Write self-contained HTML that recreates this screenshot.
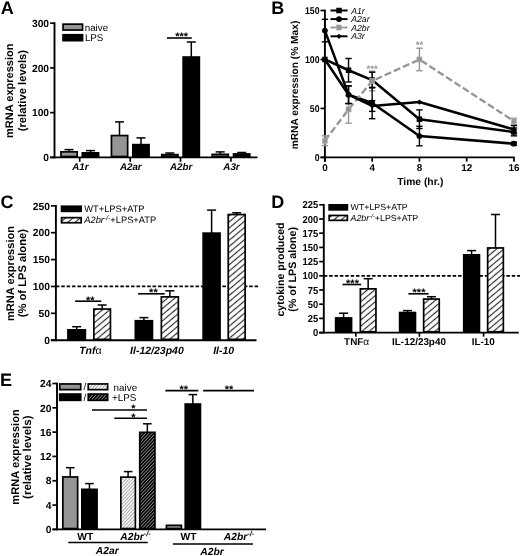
<!DOCTYPE html>
<html lang="en"><head><meta charset="utf-8"><title>Figure</title>
<style>html,body{margin:0;padding:0;background:#fff}svg{display:block;transform:translateZ(0);will-change:transform}text{font-family:"Liberation Sans", Arial, sans-serif;text-rendering:geometricPrecision}</style></head><body>
<svg width="520" height="556" viewBox="0 0 520 556">
<rect x="0" y="0" width="520" height="556" fill="#fff"/>
<defs>
<pattern id="h1" patternUnits="userSpaceOnUse" width="4.7" height="4.7" patternTransform="rotate(-40)"><rect width="4.7" height="4.7" fill="#fff"/><line x1="0" y1="2.35" x2="4.7" y2="2.35" stroke="#2a2a2a" stroke-width="1.15"/></pattern>
<pattern id="h2" patternUnits="userSpaceOnUse" width="2.4" height="2.4" patternTransform="rotate(-47)"><rect width="2.4" height="2.4" fill="#fff"/><line x1="0" y1="1.2" x2="2.4" y2="1.2" stroke="#a4a4a4" stroke-width="0.95"/></pattern>
<pattern id="h3" patternUnits="userSpaceOnUse" width="2.4" height="2.4" patternTransform="rotate(-47)"><rect width="2.4" height="2.4" fill="#000"/><line x1="0" y1="1.2" x2="2.4" y2="1.2" stroke="#9a9a9a" stroke-width="0.75"/></pattern>
</defs>
<g id="panelA">
<text x="0.70" y="13.90" font-size="18" font-weight="bold" font-style="normal" text-anchor="start" fill="#000" >A</text>
<line x1="54.50" y1="22.30" x2="54.50" y2="158.35" stroke="#000" stroke-width="1.9" />
<line x1="50.10" y1="157.40" x2="54.50" y2="157.40" stroke="#000" stroke-width="1.7" />
<text x="49.10" y="161.09" font-size="10.3" font-weight="bold" font-style="normal" text-anchor="end" fill="#000" >0</text>
<line x1="50.10" y1="112.65" x2="54.50" y2="112.65" stroke="#000" stroke-width="1.7" />
<text x="49.10" y="116.34" font-size="10.3" font-weight="bold" font-style="normal" text-anchor="end" fill="#000" >100</text>
<line x1="50.10" y1="67.90" x2="54.50" y2="67.90" stroke="#000" stroke-width="1.7" />
<text x="49.10" y="71.59" font-size="10.3" font-weight="bold" font-style="normal" text-anchor="end" fill="#000" >200</text>
<line x1="50.10" y1="23.15" x2="54.50" y2="23.15" stroke="#000" stroke-width="1.7" />
<text x="49.10" y="26.84" font-size="10.3" font-weight="bold" font-style="normal" text-anchor="end" fill="#000" >300</text>
<line x1="50.10" y1="157.40" x2="257.50" y2="157.40" stroke="#000" stroke-width="1.9" />
<text x="13.10" y="90.80" font-size="11" font-weight="bold" font-style="normal" text-anchor="middle" fill="#000" transform="rotate(-90 13.10 90.80)" >mRNA expression</text>
<text x="26.50" y="90.60" font-size="11.25" font-weight="bold" font-style="normal" text-anchor="middle" fill="#000" transform="rotate(-90 26.50 90.60)" >(relative levels)</text>
<rect x="63.05" y="24.15" width="19.50" height="5.90" fill="#959595" stroke="#000" stroke-width="1.7"/>
<text x="84.70" y="31.00" font-size="9.8" font-weight="normal" font-style="normal" text-anchor="start" fill="#000" >naive</text>
<rect x="63.05" y="34.75" width="19.50" height="5.90" fill="#000" stroke="#000" stroke-width="1.7"/>
<text x="84.90" y="41.30" font-size="9.8" font-weight="normal" font-style="normal" text-anchor="start" fill="#000" >LPS</text>
<line x1="69.00" y1="149.60" x2="69.00" y2="152.00" stroke="#000" stroke-width="1.5" />
<line x1="64.50" y1="149.60" x2="73.50" y2="149.60" stroke="#000" stroke-width="1.5" />
<line x1="90.50" y1="150.60" x2="90.50" y2="153.00" stroke="#000" stroke-width="1.5" />
<line x1="86.00" y1="150.60" x2="95.00" y2="150.60" stroke="#000" stroke-width="1.5" />
<rect x="60.95" y="151.85" width="16.20" height="4.70" fill="#959595" stroke="#000" stroke-width="1.7"/>
<rect x="82.35" y="152.85" width="16.20" height="3.70" fill="#000" stroke="#000" stroke-width="1.7"/>
<line x1="79.70" y1="157.40" x2="79.70" y2="161.80" stroke="#000" stroke-width="1.7" />
<text x="80.30" y="170.20" font-size="9.8" font-weight="bold" font-style="italic" text-anchor="middle" fill="#000" >A1r</text>
<line x1="119.50" y1="121.90" x2="119.50" y2="135.70" stroke="#000" stroke-width="1.5" />
<line x1="115.00" y1="121.90" x2="124.00" y2="121.90" stroke="#000" stroke-width="1.5" />
<line x1="141.00" y1="137.90" x2="141.00" y2="144.80" stroke="#000" stroke-width="1.5" />
<line x1="136.50" y1="137.90" x2="145.50" y2="137.90" stroke="#000" stroke-width="1.5" />
<rect x="111.45" y="135.55" width="16.20" height="21.00" fill="#959595" stroke="#000" stroke-width="1.7"/>
<rect x="132.85" y="144.65" width="16.20" height="11.90" fill="#000" stroke="#000" stroke-width="1.7"/>
<line x1="130.20" y1="157.40" x2="130.20" y2="161.80" stroke="#000" stroke-width="1.7" />
<text x="130.80" y="170.20" font-size="9.8" font-weight="bold" font-style="italic" text-anchor="middle" fill="#000" >A2ar</text>
<line x1="169.80" y1="153.00" x2="169.80" y2="154.80" stroke="#000" stroke-width="1.5" />
<line x1="165.30" y1="153.00" x2="174.30" y2="153.00" stroke="#000" stroke-width="1.5" />
<line x1="191.30" y1="42.00" x2="191.30" y2="57.20" stroke="#000" stroke-width="1.5" />
<line x1="186.80" y1="42.00" x2="195.80" y2="42.00" stroke="#000" stroke-width="1.5" />
<rect x="161.75" y="154.65" width="16.20" height="1.90" fill="#959595" stroke="#000" stroke-width="1.7"/>
<rect x="183.15" y="57.05" width="16.20" height="99.50" fill="#000" stroke="#000" stroke-width="1.7"/>
<line x1="180.50" y1="157.40" x2="180.50" y2="161.80" stroke="#000" stroke-width="1.7" />
<text x="181.10" y="170.20" font-size="9.8" font-weight="bold" font-style="italic" text-anchor="middle" fill="#000" >A2br</text>
<line x1="220.20" y1="151.90" x2="220.20" y2="154.50" stroke="#000" stroke-width="1.5" />
<line x1="215.70" y1="151.90" x2="224.70" y2="151.90" stroke="#000" stroke-width="1.5" />
<line x1="241.70" y1="152.50" x2="241.70" y2="154.10" stroke="#000" stroke-width="1.5" />
<line x1="237.20" y1="152.50" x2="246.20" y2="152.50" stroke="#000" stroke-width="1.5" />
<rect x="212.15" y="154.35" width="16.20" height="2.20" fill="#959595" stroke="#000" stroke-width="1.7"/>
<rect x="233.55" y="153.95" width="16.20" height="2.60" fill="#000" stroke="#000" stroke-width="1.7"/>
<line x1="230.90" y1="157.40" x2="230.90" y2="161.80" stroke="#000" stroke-width="1.7" />
<text x="231.50" y="170.20" font-size="9.8" font-weight="bold" font-style="italic" text-anchor="middle" fill="#000" >A3r</text>
<line x1="167.00" y1="38.00" x2="191.80" y2="38.00" stroke="#000" stroke-width="1.6" />
<text x="181.70" y="40.30" font-size="11" font-weight="bold" font-style="normal" text-anchor="middle" fill="#000" >***</text>
</g>
<g id="panelB">
<text x="271.20" y="13.90" font-size="18" font-weight="bold" font-style="normal" text-anchor="start" fill="#000" >B</text>
<line x1="324.90" y1="9.65" x2="324.90" y2="161.65" stroke="#000" stroke-width="1.9" />
<line x1="320.50" y1="157.40" x2="324.90" y2="157.40" stroke="#000" stroke-width="1.7" />
<text x="319.50" y="160.94" font-size="9.9" font-weight="bold" font-style="normal" text-anchor="end" fill="#000" transform="translate(319.50 0) scale(0.88 1) translate(-319.50 0)">0</text>
<line x1="320.50" y1="108.43" x2="324.90" y2="108.43" stroke="#000" stroke-width="1.7" />
<text x="319.50" y="111.98" font-size="9.9" font-weight="bold" font-style="normal" text-anchor="end" fill="#000" transform="translate(319.50 0) scale(0.88 1) translate(-319.50 0)">50</text>
<line x1="320.50" y1="59.47" x2="324.90" y2="59.47" stroke="#000" stroke-width="1.7" />
<text x="319.50" y="63.01" font-size="9.9" font-weight="bold" font-style="normal" text-anchor="end" fill="#000" transform="translate(319.50 0) scale(0.88 1) translate(-319.50 0)">100</text>
<line x1="320.50" y1="10.50" x2="324.90" y2="10.50" stroke="#000" stroke-width="1.7" />
<text x="319.50" y="14.04" font-size="9.9" font-weight="bold" font-style="normal" text-anchor="end" fill="#000" transform="translate(319.50 0) scale(0.88 1) translate(-319.50 0)">150</text>
<line x1="320.50" y1="157.40" x2="514.84" y2="157.40" stroke="#000" stroke-width="1.9" />
<line x1="324.90" y1="157.40" x2="324.90" y2="161.70" stroke="#000" stroke-width="1.7" />
<text x="324.90" y="171.30" font-size="9.9" font-weight="bold" font-style="normal" text-anchor="middle" fill="#000" >0</text>
<line x1="372.16" y1="157.40" x2="372.16" y2="161.70" stroke="#000" stroke-width="1.7" />
<text x="372.16" y="171.30" font-size="9.9" font-weight="bold" font-style="normal" text-anchor="middle" fill="#000" >4</text>
<line x1="419.42" y1="157.40" x2="419.42" y2="161.70" stroke="#000" stroke-width="1.7" />
<text x="419.42" y="171.30" font-size="9.9" font-weight="bold" font-style="normal" text-anchor="middle" fill="#000" >8</text>
<line x1="466.68" y1="157.40" x2="466.68" y2="161.70" stroke="#000" stroke-width="1.7" />
<text x="466.68" y="171.30" font-size="9.9" font-weight="bold" font-style="normal" text-anchor="middle" fill="#000" >12</text>
<line x1="513.94" y1="157.40" x2="513.94" y2="161.70" stroke="#000" stroke-width="1.7" />
<text x="513.94" y="171.30" font-size="9.9" font-weight="bold" font-style="normal" text-anchor="middle" fill="#000" >16</text>
<text x="420.30" y="184.60" font-size="10.3" font-weight="bold" font-style="normal" text-anchor="middle" fill="#000" >Time (hr.)</text>
<text x="298.30" y="85.00" font-size="10.2" font-weight="bold" font-style="normal" text-anchor="middle" fill="#000" transform="rotate(-90 298.30 85.00)" >mRNA expression (% Max)</text>
<line x1="324.90" y1="135.85" x2="324.90" y2="145.65" stroke="#959595" stroke-width="1.4" />
<line x1="321.70" y1="135.85" x2="328.10" y2="135.85" stroke="#959595" stroke-width="1.4" />
<line x1="321.70" y1="145.65" x2="328.10" y2="145.65" stroke="#959595" stroke-width="1.4" />
<line x1="348.53" y1="95.70" x2="348.53" y2="123.12" stroke="#959595" stroke-width="1.4" />
<line x1="345.33" y1="95.70" x2="351.73" y2="95.70" stroke="#959595" stroke-width="1.4" />
<line x1="345.33" y1="123.12" x2="351.73" y2="123.12" stroke="#959595" stroke-width="1.4" />
<line x1="372.16" y1="71.22" x2="372.16" y2="90.81" stroke="#959595" stroke-width="1.4" />
<line x1="368.96" y1="71.22" x2="375.36" y2="71.22" stroke="#959595" stroke-width="1.4" />
<line x1="368.96" y1="90.81" x2="375.36" y2="90.81" stroke="#959595" stroke-width="1.4" />
<line x1="419.42" y1="48.20" x2="419.42" y2="70.73" stroke="#959595" stroke-width="1.4" />
<line x1="416.22" y1="48.20" x2="422.62" y2="48.20" stroke="#959595" stroke-width="1.4" />
<line x1="416.22" y1="70.73" x2="422.62" y2="70.73" stroke="#959595" stroke-width="1.4" />
<line x1="513.94" y1="118.23" x2="513.94" y2="124.10" stroke="#959595" stroke-width="1.4" />
<line x1="510.74" y1="118.23" x2="517.14" y2="118.23" stroke="#959595" stroke-width="1.4" />
<line x1="510.74" y1="124.10" x2="517.14" y2="124.10" stroke="#959595" stroke-width="1.4" />
<line x1="348.53" y1="58.49" x2="348.53" y2="81.99" stroke="#000" stroke-width="1.4" />
<line x1="345.33" y1="58.49" x2="351.73" y2="58.49" stroke="#000" stroke-width="1.4" />
<line x1="345.33" y1="81.99" x2="351.73" y2="81.99" stroke="#000" stroke-width="1.4" />
<line x1="372.16" y1="72.20" x2="372.16" y2="87.87" stroke="#000" stroke-width="1.4" />
<line x1="368.96" y1="72.20" x2="375.36" y2="72.20" stroke="#000" stroke-width="1.4" />
<line x1="368.96" y1="87.87" x2="375.36" y2="87.87" stroke="#000" stroke-width="1.4" />
<line x1="419.42" y1="109.90" x2="419.42" y2="128.51" stroke="#000" stroke-width="1.4" />
<line x1="416.22" y1="109.90" x2="422.62" y2="109.90" stroke="#000" stroke-width="1.4" />
<line x1="416.22" y1="128.51" x2="422.62" y2="128.51" stroke="#000" stroke-width="1.4" />
<line x1="513.94" y1="128.02" x2="513.94" y2="135.85" stroke="#000" stroke-width="1.4" />
<line x1="510.74" y1="128.02" x2="517.14" y2="128.02" stroke="#000" stroke-width="1.4" />
<line x1="510.74" y1="135.85" x2="517.14" y2="135.85" stroke="#000" stroke-width="1.4" />
<polyline points="324.90,59.47 348.53,70.24 372.16,80.03 419.42,119.21 513.94,131.94" fill="none" stroke="#000" stroke-width="2.5" stroke-linejoin="round"/>
<rect x="322.15" y="56.72" width="5.5" height="5.5" fill="#000"/>
<rect x="345.78" y="67.49" width="5.5" height="5.5" fill="#000"/>
<rect x="369.41" y="77.28" width="5.5" height="5.5" fill="#000"/>
<rect x="416.67" y="116.46" width="5.5" height="5.5" fill="#000"/>
<rect x="511.19" y="129.19" width="5.5" height="5.5" fill="#000"/>
<line x1="324.90" y1="19.31" x2="324.90" y2="41.84" stroke="#000" stroke-width="1.4" />
<line x1="321.70" y1="19.31" x2="328.10" y2="19.31" stroke="#000" stroke-width="1.4" />
<line x1="321.70" y1="41.84" x2="328.10" y2="41.84" stroke="#000" stroke-width="1.4" />
<line x1="348.53" y1="85.91" x2="348.53" y2="103.54" stroke="#000" stroke-width="1.4" />
<line x1="345.33" y1="85.91" x2="351.73" y2="85.91" stroke="#000" stroke-width="1.4" />
<line x1="345.33" y1="103.54" x2="351.73" y2="103.54" stroke="#000" stroke-width="1.4" />
<line x1="372.16" y1="87.38" x2="372.16" y2="118.72" stroke="#000" stroke-width="1.4" />
<line x1="368.96" y1="87.38" x2="375.36" y2="87.38" stroke="#000" stroke-width="1.4" />
<line x1="368.96" y1="118.72" x2="375.36" y2="118.72" stroke="#000" stroke-width="1.4" />
<line x1="419.42" y1="126.26" x2="419.42" y2="145.84" stroke="#000" stroke-width="1.4" />
<line x1="416.22" y1="126.26" x2="422.62" y2="126.26" stroke="#000" stroke-width="1.4" />
<line x1="416.22" y1="145.84" x2="422.62" y2="145.84" stroke="#000" stroke-width="1.4" />
<line x1="513.94" y1="142.22" x2="513.94" y2="145.16" stroke="#000" stroke-width="1.4" />
<line x1="510.74" y1="142.22" x2="517.14" y2="142.22" stroke="#000" stroke-width="1.4" />
<line x1="510.74" y1="145.16" x2="517.14" y2="145.16" stroke="#000" stroke-width="1.4" />
<polyline points="324.90,30.58 348.53,94.72 372.16,103.05 419.42,136.05 513.94,143.69" fill="none" stroke="#000" stroke-width="2.5" stroke-linejoin="round"/>
<circle cx="324.90" cy="30.58" r="2.9" fill="#000"/>
<circle cx="348.53" cy="94.72" r="2.9" fill="#000"/>
<circle cx="372.16" cy="103.05" r="2.9" fill="#000"/>
<circle cx="419.42" cy="136.05" r="2.9" fill="#000"/>
<circle cx="513.94" cy="143.69" r="2.9" fill="#000"/>
<polyline points="324.90,140.75 348.53,109.41 372.16,81.01 419.42,59.47 513.94,121.16" fill="none" stroke="#959595" stroke-width="2.3" stroke-linejoin="round" stroke-dasharray="7 3"/>
<rect x="322.30" y="138.15" width="5.2" height="5.2" fill="#959595" stroke="#bbb" stroke-width="0.5"/>
<rect x="345.93" y="106.81" width="5.2" height="5.2" fill="#959595" stroke="#bbb" stroke-width="0.5"/>
<rect x="369.56" y="78.41" width="5.2" height="5.2" fill="#959595" stroke="#bbb" stroke-width="0.5"/>
<rect x="416.82" y="56.87" width="5.2" height="5.2" fill="#959595" stroke="#bbb" stroke-width="0.5"/>
<rect x="511.34" y="118.56" width="5.2" height="5.2" fill="#959595" stroke="#bbb" stroke-width="0.5"/>
<line x1="348.53" y1="85.91" x2="348.53" y2="103.54" stroke="#000" stroke-width="1.4" />
<line x1="345.33" y1="85.91" x2="351.73" y2="85.91" stroke="#000" stroke-width="1.4" />
<line x1="345.33" y1="103.54" x2="351.73" y2="103.54" stroke="#000" stroke-width="1.4" />
<line x1="372.16" y1="100.60" x2="372.16" y2="111.37" stroke="#000" stroke-width="1.4" />
<line x1="368.96" y1="100.60" x2="375.36" y2="100.60" stroke="#000" stroke-width="1.4" />
<line x1="368.96" y1="111.37" x2="375.36" y2="111.37" stroke="#000" stroke-width="1.4" />
<line x1="513.94" y1="125.57" x2="513.94" y2="133.41" stroke="#000" stroke-width="1.4" />
<line x1="510.74" y1="125.57" x2="517.14" y2="125.57" stroke="#000" stroke-width="1.4" />
<line x1="510.74" y1="133.41" x2="517.14" y2="133.41" stroke="#000" stroke-width="1.4" />
<polyline points="324.90,59.47 348.53,94.72 372.16,105.98 419.42,102.07 513.94,129.49" fill="none" stroke="#000" stroke-width="2.5" stroke-linejoin="round"/>
<path d="M322.30 59.47L324.90 56.87L327.50 59.47L324.90 62.07Z" fill="#000"/>
<path d="M345.93 94.72L348.53 92.12L351.13 94.72L348.53 97.32Z" fill="#000"/>
<path d="M369.56 105.98L372.16 103.39L374.76 105.98L372.16 108.58Z" fill="#000"/>
<path d="M416.82 102.07L419.42 99.47L422.02 102.07L419.42 104.67Z" fill="#000"/>
<path d="M511.34 129.49L513.94 126.89L516.54 129.49L513.94 132.09Z" fill="#000"/>
<text x="372.16" y="71.60" font-size="9.5" font-weight="bold" font-style="normal" text-anchor="middle" fill="#959595" >***</text>
<text x="419.42" y="48.20" font-size="9.5" font-weight="bold" font-style="normal" text-anchor="middle" fill="#959595" >**</text>
<line x1="330.50" y1="10.50" x2="347.50" y2="10.50" stroke="#000" stroke-width="2" />
<rect x="336.25" y="7.75" width="5.5" height="5.5" fill="#000"/>
<text x="351.20" y="13.60" font-size="8.7" font-weight="normal" font-style="italic" text-anchor="start" fill="#000" >A1r</text>
<line x1="330.50" y1="19.10" x2="347.50" y2="19.10" stroke="#000" stroke-width="2" />
<circle cx="339.00" cy="19.10" r="2.9" fill="#000"/>
<text x="351.20" y="22.20" font-size="8.7" font-weight="normal" font-style="italic" text-anchor="start" fill="#000" >A2ar</text>
<line x1="330.50" y1="27.50" x2="347.50" y2="27.50" stroke="#959595" stroke-width="1.8" />
<rect x="336.40" y="24.90" width="5.2" height="5.2" fill="#959595" stroke="#bbb" stroke-width="0.5"/>
<text x="351.20" y="30.60" font-size="8.7" font-weight="normal" font-style="italic" text-anchor="start" fill="#000" >A2br</text>
<line x1="330.50" y1="36.30" x2="347.50" y2="36.30" stroke="#000" stroke-width="2" />
<path d="M336.40 36.30L339.00 33.70L341.60 36.30L339.00 38.90Z" fill="#000"/>
<text x="351.20" y="39.40" font-size="8.7" font-weight="normal" font-style="italic" text-anchor="start" fill="#000" >A3r</text>
</g>
<g id="panelC">
<text x="0.50" y="208.30" font-size="18" font-weight="bold" font-style="normal" text-anchor="start" fill="#000" >C</text>
<line x1="55.90" y1="204.97" x2="55.90" y2="341.15" stroke="#000" stroke-width="1.9" />
<line x1="50.90" y1="340.20" x2="55.90" y2="340.20" stroke="#000" stroke-width="1.7" />
<text x="49.90" y="343.89" font-size="10.3" font-weight="bold" font-style="normal" text-anchor="end" fill="#000" >0</text>
<line x1="50.90" y1="313.32" x2="55.90" y2="313.32" stroke="#000" stroke-width="1.7" />
<text x="49.90" y="317.01" font-size="10.3" font-weight="bold" font-style="normal" text-anchor="end" fill="#000" >50</text>
<line x1="50.90" y1="286.45" x2="55.90" y2="286.45" stroke="#000" stroke-width="1.7" />
<text x="49.90" y="290.14" font-size="10.3" font-weight="bold" font-style="normal" text-anchor="end" fill="#000" >100</text>
<line x1="50.90" y1="259.57" x2="55.90" y2="259.57" stroke="#000" stroke-width="1.7" />
<text x="49.90" y="263.26" font-size="10.3" font-weight="bold" font-style="normal" text-anchor="end" fill="#000" >150</text>
<line x1="50.90" y1="232.70" x2="55.90" y2="232.70" stroke="#000" stroke-width="1.7" />
<text x="49.90" y="236.39" font-size="10.3" font-weight="bold" font-style="normal" text-anchor="end" fill="#000" >200</text>
<line x1="50.90" y1="205.82" x2="55.90" y2="205.82" stroke="#000" stroke-width="1.7" />
<text x="49.90" y="209.51" font-size="10.3" font-weight="bold" font-style="normal" text-anchor="end" fill="#000" >250</text>
<line x1="50.90" y1="340.20" x2="256.50" y2="340.20" stroke="#000" stroke-width="1.9" />
<text x="13.60" y="273.50" font-size="11.1" font-weight="bold" font-style="normal" text-anchor="middle" fill="#000" transform="rotate(-90 13.60 273.50)" >mRNA expression</text>
<text x="26.20" y="273.20" font-size="11.2" font-weight="bold" font-style="normal" text-anchor="middle" fill="#000" transform="rotate(-90 26.20 273.20)" >(% of LPS alone)</text>
<line x1="55.90" y1="286.45" x2="259.00" y2="286.45" stroke="#000" stroke-width="1.8" stroke-dasharray="3.5 1.87"/>
<rect x="61.55" y="206.25" width="19.60" height="5.10" fill="#000" stroke="#000" stroke-width="1.7"/>
<text x="84.30" y="212.10" font-size="9.3" font-weight="normal" font-style="normal" text-anchor="start" fill="#000" >WT+LPS+ATP</text>
<rect x="61.55" y="217.65" width="19.60" height="5.10" fill="url(#h1)" stroke="#000" stroke-width="1.7"/>
<text x="84.3" y="223.4" font-size="9.3" text-anchor="start"><tspan font-style="italic">A2br</tspan><tspan font-size="6.8" dy="-3.5" font-style="italic">-/-</tspan><tspan dy="3.5">+LPS+ATP</tspan></text>
<line x1="76.65" y1="326.70" x2="76.65" y2="330.00" stroke="#000" stroke-width="1.5" />
<line x1="72.15" y1="326.70" x2="81.15" y2="326.70" stroke="#000" stroke-width="1.5" />
<line x1="102.15" y1="305.00" x2="102.15" y2="309.20" stroke="#000" stroke-width="1.5" />
<line x1="97.65" y1="305.00" x2="106.65" y2="305.00" stroke="#000" stroke-width="1.5" />
<rect x="67.95" y="329.85" width="17.40" height="9.50" fill="#000" stroke="#000" stroke-width="1.7"/>
<rect x="93.85" y="309.05" width="16.60" height="30.30" fill="url(#h1)" stroke="#000" stroke-width="1.7"/>
<line x1="143.90" y1="317.60" x2="143.90" y2="320.90" stroke="#000" stroke-width="1.5" />
<line x1="139.40" y1="317.60" x2="148.40" y2="317.60" stroke="#000" stroke-width="1.5" />
<line x1="169.85" y1="290.80" x2="169.85" y2="297.00" stroke="#000" stroke-width="1.5" />
<line x1="165.35" y1="290.80" x2="174.35" y2="290.80" stroke="#000" stroke-width="1.5" />
<rect x="135.35" y="320.75" width="17.10" height="18.60" fill="#000" stroke="#000" stroke-width="1.7"/>
<rect x="161.35" y="296.85" width="17.00" height="42.50" fill="url(#h1)" stroke="#000" stroke-width="1.7"/>
<line x1="211.60" y1="210.10" x2="211.60" y2="233.30" stroke="#000" stroke-width="1.5" />
<line x1="207.10" y1="210.10" x2="216.10" y2="210.10" stroke="#000" stroke-width="1.5" />
<line x1="236.70" y1="212.80" x2="236.70" y2="214.70" stroke="#000" stroke-width="1.5" />
<line x1="232.20" y1="212.80" x2="241.20" y2="212.80" stroke="#000" stroke-width="1.5" />
<rect x="203.15" y="233.15" width="16.90" height="106.20" fill="#000" stroke="#000" stroke-width="1.7"/>
<rect x="228.25" y="214.55" width="16.90" height="124.80" fill="url(#h1)" stroke="#000" stroke-width="1.7"/>
<text x="90.4" y="353.7" font-size="10.5" font-weight="bold" text-anchor="middle"><tspan font-style="italic">Tnf</tspan><tspan font-weight="normal" font-size="10.5">α</tspan></text>
<text x="156.90" y="353.70" font-size="10.5" font-weight="bold" font-style="italic" text-anchor="middle" fill="#000" >Il-12/23p40</text>
<text x="223.70" y="353.70" font-size="10.5" font-weight="bold" font-style="italic" text-anchor="middle" fill="#000" >Il-10</text>
<line x1="75.10" y1="301.20" x2="101.20" y2="301.20" stroke="#000" stroke-width="1.6" />
<text x="90.20" y="303.50" font-size="11" font-weight="bold" font-style="normal" text-anchor="middle" fill="#000" >**</text>
<line x1="138.10" y1="293.80" x2="164.70" y2="293.80" stroke="#000" stroke-width="1.6" />
<text x="153.40" y="296.10" font-size="11" font-weight="bold" font-style="normal" text-anchor="middle" fill="#000" >**</text>
</g>
<g id="panelD">
<text x="271.20" y="207.70" font-size="18" font-weight="bold" font-style="normal" text-anchor="start" fill="#000" >D</text>
<line x1="323.80" y1="203.95" x2="323.80" y2="333.55" stroke="#000" stroke-width="1.9" />
<line x1="319.20" y1="332.60" x2="323.80" y2="332.60" stroke="#000" stroke-width="1.7" />
<text x="318.20" y="336.22" font-size="10.1" font-weight="bold" font-style="normal" text-anchor="end" fill="#000" transform="translate(318.20 0) scale(0.93 1) translate(-318.20 0)">0</text>
<line x1="319.20" y1="318.40" x2="323.80" y2="318.40" stroke="#000" stroke-width="1.7" />
<text x="318.20" y="322.02" font-size="10.1" font-weight="bold" font-style="normal" text-anchor="end" fill="#000" transform="translate(318.20 0) scale(0.93 1) translate(-318.20 0)">25</text>
<line x1="319.20" y1="304.20" x2="323.80" y2="304.20" stroke="#000" stroke-width="1.7" />
<text x="318.20" y="307.82" font-size="10.1" font-weight="bold" font-style="normal" text-anchor="end" fill="#000" transform="translate(318.20 0) scale(0.93 1) translate(-318.20 0)">50</text>
<line x1="319.20" y1="290.00" x2="323.80" y2="290.00" stroke="#000" stroke-width="1.7" />
<text x="318.20" y="293.62" font-size="10.1" font-weight="bold" font-style="normal" text-anchor="end" fill="#000" transform="translate(318.20 0) scale(0.93 1) translate(-318.20 0)">75</text>
<line x1="319.20" y1="275.80" x2="323.80" y2="275.80" stroke="#000" stroke-width="1.7" />
<text x="318.20" y="279.42" font-size="10.1" font-weight="bold" font-style="normal" text-anchor="end" fill="#000" transform="translate(318.20 0) scale(0.93 1) translate(-318.20 0)">100</text>
<line x1="319.20" y1="261.60" x2="323.80" y2="261.60" stroke="#000" stroke-width="1.7" />
<text x="318.20" y="265.22" font-size="10.1" font-weight="bold" font-style="normal" text-anchor="end" fill="#000" transform="translate(318.20 0) scale(0.93 1) translate(-318.20 0)">125</text>
<line x1="319.20" y1="247.40" x2="323.80" y2="247.40" stroke="#000" stroke-width="1.7" />
<text x="318.20" y="251.02" font-size="10.1" font-weight="bold" font-style="normal" text-anchor="end" fill="#000" transform="translate(318.20 0) scale(0.93 1) translate(-318.20 0)">150</text>
<line x1="319.20" y1="233.20" x2="323.80" y2="233.20" stroke="#000" stroke-width="1.7" />
<text x="318.20" y="236.82" font-size="10.1" font-weight="bold" font-style="normal" text-anchor="end" fill="#000" transform="translate(318.20 0) scale(0.93 1) translate(-318.20 0)">175</text>
<line x1="319.20" y1="219.00" x2="323.80" y2="219.00" stroke="#000" stroke-width="1.7" />
<text x="318.20" y="222.62" font-size="10.1" font-weight="bold" font-style="normal" text-anchor="end" fill="#000" transform="translate(318.20 0) scale(0.93 1) translate(-318.20 0)">200</text>
<line x1="319.20" y1="204.80" x2="323.80" y2="204.80" stroke="#000" stroke-width="1.7" />
<text x="318.20" y="208.42" font-size="10.1" font-weight="bold" font-style="normal" text-anchor="end" fill="#000" transform="translate(318.20 0) scale(0.93 1) translate(-318.20 0)">225</text>
<line x1="319.20" y1="332.60" x2="518.80" y2="332.60" stroke="#000" stroke-width="1.9" />
<text x="283.70" y="269.50" font-size="10.6" font-weight="bold" font-style="normal" text-anchor="middle" fill="#000" transform="rotate(-90 283.70 269.50)" >cytokine produced</text>
<text x="295.60" y="269.40" font-size="10.75" font-weight="bold" font-style="normal" text-anchor="middle" fill="#000" transform="rotate(-90 295.60 269.40)" >(% of LPS alone)</text>
<line x1="323.80" y1="275.80" x2="520.00" y2="275.80" stroke="#000" stroke-width="1.8" stroke-dasharray="3.5 1.87"/>
<rect x="329.15" y="204.85" width="18.20" height="5.00" fill="#000" stroke="#000" stroke-width="1.7"/>
<text x="350.60" y="210.40" font-size="8.8" font-weight="normal" font-style="normal" text-anchor="start" fill="#000" >WT+LPS+ATP</text>
<rect x="329.15" y="215.45" width="18.20" height="4.90" fill="url(#h1)" stroke="#000" stroke-width="1.7"/>
<text x="350.6" y="221.3" font-size="8.8" text-anchor="start"><tspan font-style="italic">A2br</tspan><tspan font-size="6" dy="-3.5" font-style="italic">-/-</tspan><tspan dy="3.5">+LPS+ATP</tspan></text>
<line x1="343.60" y1="313.20" x2="343.60" y2="318.10" stroke="#000" stroke-width="1.5" />
<line x1="339.10" y1="313.20" x2="348.10" y2="313.20" stroke="#000" stroke-width="1.5" />
<line x1="368.15" y1="278.70" x2="368.15" y2="289.00" stroke="#000" stroke-width="1.5" />
<line x1="363.65" y1="278.70" x2="372.65" y2="278.70" stroke="#000" stroke-width="1.5" />
<rect x="335.65" y="317.95" width="15.90" height="13.80" fill="#000" stroke="#000" stroke-width="1.7"/>
<rect x="360.35" y="288.85" width="15.60" height="42.90" fill="url(#h1)" stroke="#000" stroke-width="1.7"/>
<line x1="355.80" y1="332.60" x2="355.80" y2="336.70" stroke="#000" stroke-width="1.7" />
<text x="344.1" y="345.4" font-size="9.9" font-weight="bold" text-anchor="start">TNF<tspan font-weight="normal" font-size="10.2">α</tspan></text>
<line x1="407.55" y1="310.60" x2="407.55" y2="312.70" stroke="#000" stroke-width="1.5" />
<line x1="403.05" y1="310.60" x2="412.05" y2="310.60" stroke="#000" stroke-width="1.5" />
<line x1="431.45" y1="296.70" x2="431.45" y2="299.20" stroke="#000" stroke-width="1.5" />
<line x1="426.95" y1="296.70" x2="435.95" y2="296.70" stroke="#000" stroke-width="1.5" />
<rect x="399.65" y="312.55" width="15.80" height="19.20" fill="#000" stroke="#000" stroke-width="1.7"/>
<rect x="423.65" y="299.05" width="15.60" height="32.70" fill="url(#h1)" stroke="#000" stroke-width="1.7"/>
<line x1="419.40" y1="332.60" x2="419.40" y2="336.70" stroke="#000" stroke-width="1.7" />
<text x="419.00" y="345.40" font-size="9.9" font-weight="bold" font-style="normal" text-anchor="middle" fill="#000" >IL-12/23p40</text>
<line x1="471.60" y1="250.60" x2="471.60" y2="255.00" stroke="#000" stroke-width="1.5" />
<line x1="467.10" y1="250.60" x2="476.10" y2="250.60" stroke="#000" stroke-width="1.5" />
<line x1="495.50" y1="214.50" x2="495.50" y2="248.10" stroke="#000" stroke-width="1.5" />
<line x1="491.00" y1="214.50" x2="500.00" y2="214.50" stroke="#000" stroke-width="1.5" />
<rect x="463.75" y="254.85" width="15.70" height="76.90" fill="#000" stroke="#000" stroke-width="1.7"/>
<rect x="487.65" y="247.95" width="15.70" height="83.80" fill="url(#h1)" stroke="#000" stroke-width="1.7"/>
<line x1="483.60" y1="332.60" x2="483.60" y2="336.70" stroke="#000" stroke-width="1.7" />
<text x="483.20" y="345.40" font-size="9.9" font-weight="bold" font-style="normal" text-anchor="middle" fill="#000" >IL-10</text>
<line x1="342.50" y1="284.50" x2="361.20" y2="284.50" stroke="#000" stroke-width="1.6" />
<text x="352.50" y="286.80" font-size="11" font-weight="bold" font-style="normal" text-anchor="middle" fill="#000" >***</text>
<line x1="408.40" y1="293.80" x2="428.60" y2="293.80" stroke="#000" stroke-width="1.6" />
<text x="419.00" y="296.10" font-size="11" font-weight="bold" font-style="normal" text-anchor="middle" fill="#000" >***</text>
</g>
<g id="panelE">
<text x="-0.10" y="385.80" font-size="18" font-weight="bold" font-style="normal" text-anchor="start" fill="#000" >E</text>
<line x1="57.00" y1="382.65" x2="57.00" y2="530.35" stroke="#000" stroke-width="1.9" />
<line x1="52.40" y1="529.40" x2="57.00" y2="529.40" stroke="#000" stroke-width="1.7" />
<text x="51.40" y="533.09" font-size="10.3" font-weight="bold" font-style="normal" text-anchor="end" fill="#000" >0</text>
<line x1="52.40" y1="505.08" x2="57.00" y2="505.08" stroke="#000" stroke-width="1.7" />
<text x="51.40" y="508.77" font-size="10.3" font-weight="bold" font-style="normal" text-anchor="end" fill="#000" >4</text>
<line x1="52.40" y1="480.77" x2="57.00" y2="480.77" stroke="#000" stroke-width="1.7" />
<text x="51.40" y="484.45" font-size="10.3" font-weight="bold" font-style="normal" text-anchor="end" fill="#000" >8</text>
<line x1="52.40" y1="456.45" x2="57.00" y2="456.45" stroke="#000" stroke-width="1.7" />
<text x="51.40" y="460.14" font-size="10.3" font-weight="bold" font-style="normal" text-anchor="end" fill="#000" >12</text>
<line x1="52.40" y1="432.13" x2="57.00" y2="432.13" stroke="#000" stroke-width="1.7" />
<text x="51.40" y="435.82" font-size="10.3" font-weight="bold" font-style="normal" text-anchor="end" fill="#000" >16</text>
<line x1="52.40" y1="407.82" x2="57.00" y2="407.82" stroke="#000" stroke-width="1.7" />
<text x="51.40" y="411.50" font-size="10.3" font-weight="bold" font-style="normal" text-anchor="end" fill="#000" >20</text>
<line x1="52.40" y1="383.50" x2="57.00" y2="383.50" stroke="#000" stroke-width="1.7" />
<text x="51.40" y="387.19" font-size="10.3" font-weight="bold" font-style="normal" text-anchor="end" fill="#000" >24</text>
<line x1="52.40" y1="529.40" x2="266.00" y2="529.40" stroke="#000" stroke-width="1.9" />
<text x="18.60" y="457.00" font-size="11.15" font-weight="bold" font-style="normal" text-anchor="middle" fill="#000" transform="rotate(-90 18.60 457.00)" >mRNA expression</text>
<text x="30.70" y="457.20" font-size="11.55" font-weight="bold" font-style="normal" text-anchor="middle" fill="#000" transform="rotate(-90 30.70 457.20)" >(relative levels)</text>
<rect x="59.75" y="383.95" width="21.00" height="5.70" fill="#959595" stroke="#000" stroke-width="1.7"/>
<text x="84.80" y="390.40" font-size="9.9" font-weight="normal" font-style="normal" text-anchor="middle" fill="#000" >/</text>
<rect x="88.25" y="383.95" width="19.40" height="5.70" fill="url(#h2)" stroke="#000" stroke-width="1.7"/>
<text x="113.60" y="390.60" font-size="9.9" font-weight="normal" font-style="normal" text-anchor="start" fill="#000" >naive</text>
<rect x="59.75" y="394.05" width="21.00" height="6.30" fill="#000" stroke="#000" stroke-width="1.7"/>
<text x="84.80" y="400.60" font-size="9.9" font-weight="normal" font-style="normal" text-anchor="middle" fill="#000" >/</text>
<rect x="88.25" y="394.05" width="19.40" height="6.30" fill="url(#h3)" stroke="#000" stroke-width="1.7"/>
<text x="111.90" y="400.70" font-size="9.9" font-weight="normal" font-style="normal" text-anchor="start" fill="#000" >+LPS</text>
<line x1="70.25" y1="467.70" x2="70.25" y2="477.10" stroke="#000" stroke-width="1.5" />
<line x1="65.95" y1="467.70" x2="74.55" y2="467.70" stroke="#000" stroke-width="1.5" />
<rect x="62.85" y="476.95" width="14.80" height="51.60" fill="#959595" stroke="#000" stroke-width="1.7"/>
<line x1="89.45" y1="483.60" x2="89.45" y2="489.50" stroke="#000" stroke-width="1.5" />
<line x1="85.15" y1="483.60" x2="93.75" y2="483.60" stroke="#000" stroke-width="1.5" />
<rect x="81.85" y="489.35" width="15.20" height="39.20" fill="#000" stroke="#000" stroke-width="1.7"/>
<line x1="128.10" y1="471.60" x2="128.10" y2="477.30" stroke="#000" stroke-width="1.5" />
<line x1="123.80" y1="471.60" x2="132.40" y2="471.60" stroke="#000" stroke-width="1.5" />
<rect x="120.85" y="477.15" width="14.50" height="51.40" fill="url(#h2)" stroke="#000" stroke-width="1.7"/>
<line x1="147.35" y1="423.80" x2="147.35" y2="432.50" stroke="#000" stroke-width="1.5" />
<line x1="143.05" y1="423.80" x2="151.65" y2="423.80" stroke="#000" stroke-width="1.5" />
<rect x="139.75" y="432.35" width="15.20" height="96.20" fill="url(#h3)" stroke="#000" stroke-width="1.7"/>
<rect x="166.45" y="525.35" width="15.00" height="3.20" fill="#959595" stroke="#000" stroke-width="1.7"/>
<line x1="192.85" y1="394.60" x2="192.85" y2="404.20" stroke="#000" stroke-width="1.5" />
<line x1="188.55" y1="394.60" x2="197.15" y2="394.60" stroke="#000" stroke-width="1.5" />
<rect x="185.25" y="404.05" width="15.20" height="124.50" fill="#000" stroke="#000" stroke-width="1.7"/>
<line x1="92.00" y1="410.00" x2="147.00" y2="410.00" stroke="#000" stroke-width="1.6" />
<text x="133.50" y="412.30" font-size="11" font-weight="bold" font-style="normal" text-anchor="middle" fill="#000" >*</text>
<line x1="114.30" y1="418.20" x2="147.00" y2="418.20" stroke="#000" stroke-width="1.6" />
<text x="133.50" y="420.50" font-size="11" font-weight="bold" font-style="normal" text-anchor="middle" fill="#000" >*</text>
<line x1="165.40" y1="390.60" x2="198.30" y2="390.60" stroke="#000" stroke-width="1.6" />
<text x="183.80" y="392.90" font-size="11" font-weight="bold" font-style="normal" text-anchor="middle" fill="#000" >**</text>
<line x1="203.20" y1="390.60" x2="254.00" y2="390.60" stroke="#000" stroke-width="1.6" />
<text x="229.00" y="392.90" font-size="11" font-weight="bold" font-style="normal" text-anchor="middle" fill="#000" >**</text>
<text x="85.20" y="539.70" font-size="10.3" font-weight="bold" font-style="normal" text-anchor="middle" fill="#000" >WT</text>
<text x="135.6" y="539.7" font-size="10.3" font-weight="bold" font-style="italic" text-anchor="middle">A2br<tspan font-size="7.4" dy="-4.2">-/-</tspan></text>
<line x1="68.30" y1="542.40" x2="147.70" y2="542.40" stroke="#000" stroke-width="1.5" />
<text x="107.30" y="553.80" font-size="10.3" font-weight="bold" font-style="italic" text-anchor="middle" fill="#000" >A2ar</text>
<text x="188.50" y="540.20" font-size="10.3" font-weight="bold" font-style="normal" text-anchor="middle" fill="#000" >WT</text>
<text x="239" y="540.2" font-size="10.3" font-weight="bold" font-style="italic" text-anchor="middle">A2br<tspan font-size="7.4" dy="-4.2">-/-</tspan></text>
<line x1="172.90" y1="544.00" x2="252.90" y2="544.00" stroke="#000" stroke-width="1.5" />
<text x="212.00" y="555.40" font-size="10.3" font-weight="bold" font-style="italic" text-anchor="middle" fill="#000" >A2br</text>
</g>
</svg></body></html>
